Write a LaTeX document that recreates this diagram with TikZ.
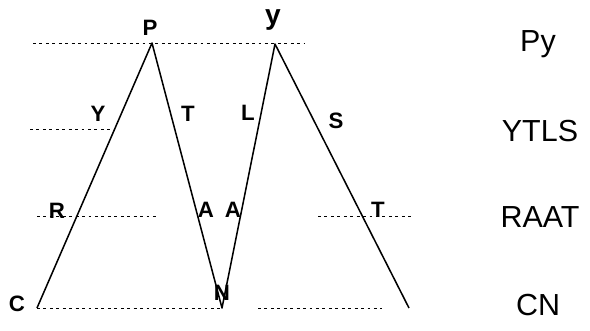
\documentclass[tikz,border=0pt]{standalone}
\usepackage{fontspec}
\setmainfont{Liberation Sans}
\usetikzlibrary{positioning, calc}

\begin{document}
\begin{tikzpicture}[x=0.03cm, y=-0.03cm,
    edge/.style={line width=1.3pt, line join=round},
    level/.style={line width=0.5pt, dash pattern=on 2.5pt off 3pt},
    hand/.style={font=\fontsize{19}{19}\selectfont\bfseries, inner sep=0pt},
    rowlab/.style={font=\fontsize{26}{28}\selectfont, inner sep=0pt}]

    \useasboundingbox (0,0) rectangle (590,330);

    % Corner points of the zig-zag
    \coordinate (C) at (37,308);
    \coordinate (P) at (152,43);
    \coordinate (N) at (222,308);
    \coordinate (Ytop) at (275,44);
    \coordinate (E) at (409,308);

    % Dotted levels
    \foreach \xa/\xb/\y in {33/305/43, 30/114/129, 37/158/216, 318/412/216, 37/222/308, 258/382/308} {
        \draw [level] (\xa,\y) -- (\xb,\y);
    }

    % Main lines
    \draw [edge] (C) -- (P) -- (N) -- (Ytop) -- (E);

    % Hand labels on the lines
    \node [hand] (lP) at (150,28) {P};
    \node [hand, font=\fontsize{24}{24}\selectfont\bfseries] (lY) at (273,20) {y};
    \node [hand] (lC) at (17,304) {C};
    \node [hand] (lN) at (222,293) {N};
    \foreach \t/\x/\y/\nm in {Y/98/114/y1, T/188/114/t1, L/248/113/l1, S/336/121/s1,
                              R/57/211/r1, A/206/210/a1, A/233/210/a2, T/378/210/t2} {
        \node [hand] (\nm) at (\x,\y) {\t};
    }

    % Row labels
    \node [rowlab] (rPy) at (538,44) {Py};
    \node [rowlab] (rYTLS) at (540,131) {YTLS};
    \node [rowlab] (rRAAT) at (540,217) {RAAT};
    \node [rowlab] (rCN) at (538,305) {CN};
\end{tikzpicture}
\end{document}
